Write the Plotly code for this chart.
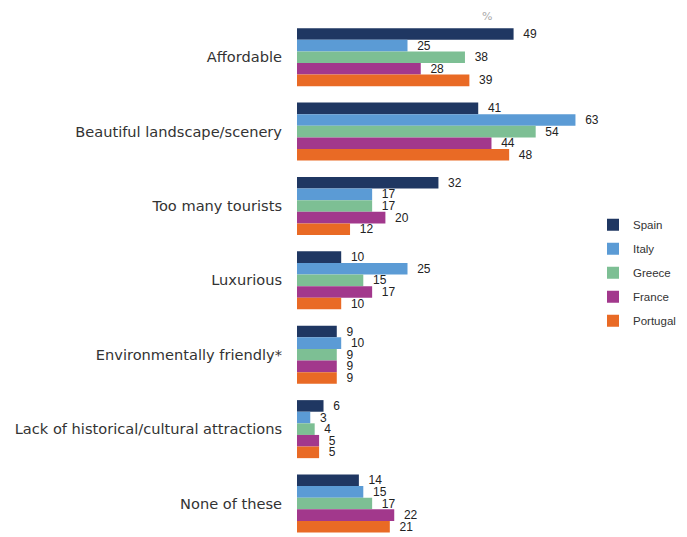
import plotly.graph_objects as go

categories = ["Affordable", "Beautiful landscape/scenery", "Too many tourists", "Luxurious",
              "Environmentally friendly*", "Lack of historical/cultural attractions", "None of these"]
spain = [49, 41, 32, 10, 9, 6, 14]
italy = [25, 63, 17, 25, 10, 3, 15]
greece = [38, 54, 17, 15, 9, 4, 17]
france = [28, 44, 20, 17, 9, 5, 22]
portugal = [39, 48, 12, 10, 9, 5, 21]

series = [("Spain", spain, "#1f3762"), ("Italy", italy, "#5b9bd5"), ("Greece", greece, "#7dbf94"),
          ("France", france, "#a2388c"), ("Portugal", portugal, "#e96a25")]

W, H = 679, 529
L, R, T, B = 289, 0, 12, 0
PW, PH = W - L - R, H - T - B

fig = go.Figure()
for name, vals, col in series:
    fig.add_trace(go.Bar(
        y=categories, x=vals, name=name, orientation="h",
        marker=dict(color=col, line=dict(width=0)),
        text=["\u00a0\u00a0" + str(v) for v in vals], textposition="outside", constraintext="none",
        textfont=dict(size=12, color="#222222", family="Liberation Sans"),
        cliponaxis=False, legendgroup=name,
    ))

fig.update_layout(
    width=W, height=H,
    margin=dict(l=L, r=R, t=T, b=B),
    barmode="group", bargap=0.22, bargroupgap=0,
    plot_bgcolor="white", paper_bgcolor="white",
    font=dict(family="DejaVu Sans", color="#333333"),
    showlegend=True,
    legend=dict(x=(585 - L) / PW, xanchor="left", y=0.511, yanchor="middle", traceorder="grouped",
                tracegroupgap=5, bgcolor="rgba(0,0,0,0)",
                font=dict(size=11.5, family="Liberation Sans", color="#333333")),
    xaxis=dict(range=[0, PW / 4.42], visible=False, fixedrange=True),
    yaxis=dict(autorange=False, range=[6.45, -0.5], showline=False, showgrid=False,
               ticks="", ticklabelstandoff=14, tickfont=dict(size=14.6, color="#333333")),
    annotations=[dict(text="%", x=(479 - L) / PW, y=1 + T / PH, xref="paper", yref="paper",
                      xanchor="center", yanchor="top", showarrow=False,
                      font=dict(size=11, color="#aaaaaa"))],
)
fig.write_html("out.html")
